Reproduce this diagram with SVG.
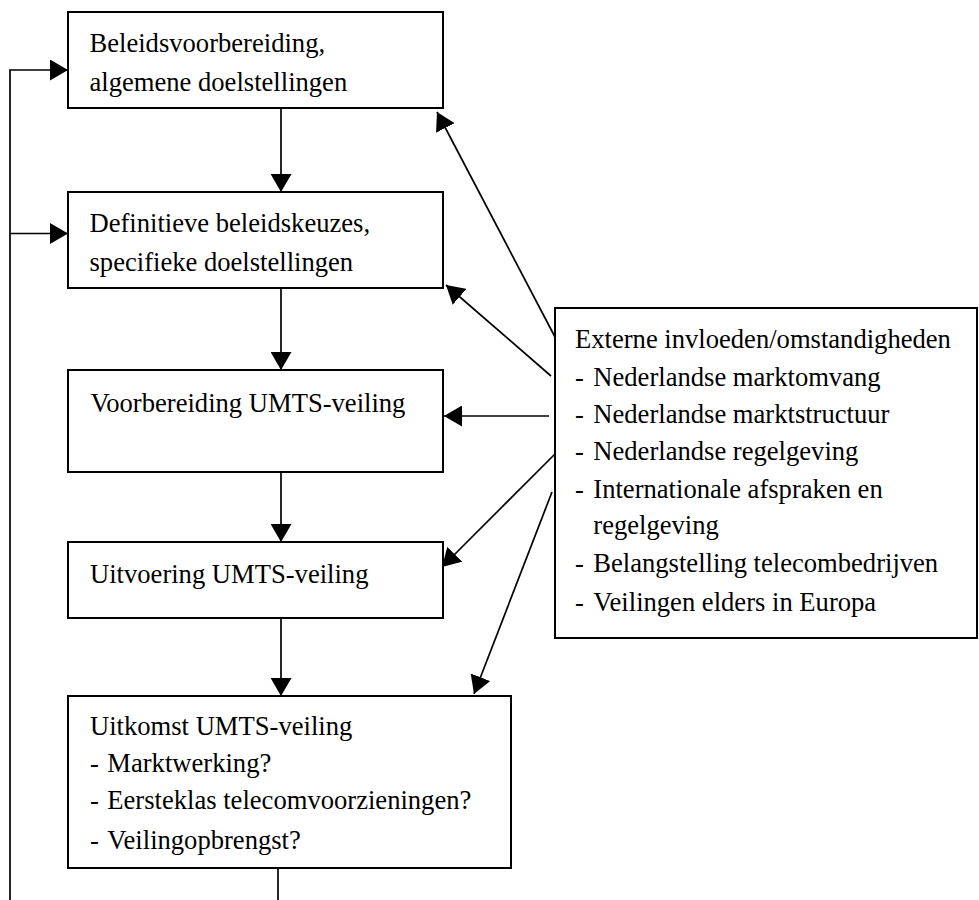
<svg xmlns="http://www.w3.org/2000/svg" width="979" height="900" viewBox="0 0 979 900">
<style>
.box{fill:#fff;stroke:#000;stroke-width:2}
.t{font-family:"Liberation Serif","Times New Roman",serif;font-size:26.6px;fill:#000}
.c{fill:none;stroke:#000;stroke-width:1.7}
.a{marker-end:url(#ah)}
</style>
<defs>
<marker id="ah" markerUnits="userSpaceOnUse" markerWidth="19" markerHeight="21" refX="18" refY="10.5" orient="auto" viewBox="0 0 19 21">
<path d="M0,0 L18,10.5 L0,21 z" fill="#000"/>
</marker>
</defs>
<rect width="979" height="900" fill="#fff"/>
<g id="connectors">
<line class="c a" x1="281" y1="108" x2="281" y2="192"/>
<line class="c a" x1="281" y1="288" x2="281" y2="370"/>
<line class="c a" x1="281" y1="472" x2="281" y2="542"/>
<line class="c a" x1="281" y1="618" x2="281" y2="696"/>
<line class="c" x1="278" y1="868" x2="278" y2="900"/>
<polyline class="c" points="10,900 10,70 68,70" marker-end="url(#ah)"/>
<line class="c a" x1="10" y1="233.5" x2="68" y2="233.5"/>
<line class="c a" x1="555" y1="337" x2="437" y2="112"/>
<line class="c a" x1="551" y1="376" x2="446" y2="285"/>
<line class="c a" x1="549" y1="416" x2="444" y2="416"/>
<line class="c a" x1="555" y1="454" x2="442" y2="567"/>
<line class="c a" x1="552" y1="492" x2="474" y2="694"/>
</g>
<g id="n1">
<rect class="box" x="68" y="12" width="375" height="96"/>
<text class="t" x="89.5" y="52">Beleidsvoorbereiding,</text>
<text class="t" x="89.5" y="91">algemene doelstellingen</text>
</g>
<g id="n2">
<rect class="box" x="68" y="192" width="375" height="96"/>
<text class="t" x="89.5" y="232">Definitieve beleidskeuzes,</text>
<text class="t" x="89.5" y="271">specifieke doelstellingen</text>
</g>
<g id="n3">
<rect class="box" x="68" y="370" width="375" height="102"/>
<text class="t" x="90.5" y="412">Voorbereiding UMTS-veiling</text>
</g>
<g id="n4">
<rect class="box" x="68" y="542" width="375" height="76"/>
<text class="t" x="90" y="583">Uitvoering UMTS-veiling</text>
</g>
<g id="n5">
<rect class="box" x="68" y="696" width="443" height="172"/>
<text class="t" x="90" y="735">Uitkomst UMTS-veiling</text>
<text class="t" y="772"><tspan x="90">-</tspan><tspan x="107.3">Marktwerking?</tspan></text>
<text class="t" y="809"><tspan x="90">-</tspan><tspan x="107.3">Eersteklas telecomvoorzieningen?</tspan></text>
<text class="t" y="849"><tspan x="90">-</tspan><tspan x="107.3">Veilingopbrengst?</tspan></text>
</g>
<g id="n6">
<rect class="box" x="555" y="308" width="422" height="330"/>
<text class="t" x="575" y="348">Externe invloeden/omstandigheden</text>
<text class="t" y="386"><tspan x="575">-</tspan><tspan x="593.3">Nederlandse marktomvang</tspan></text>
<text class="t" y="422.5"><tspan x="575">-</tspan><tspan x="593.3">Nederlandse marktstructuur</tspan></text>
<text class="t" y="460"><tspan x="575">-</tspan><tspan x="593.3">Nederlandse regelgeving</tspan></text>
<text class="t" y="497.5"><tspan x="575">-</tspan><tspan x="593.3">Internationale afspraken en</tspan></text>
<text class="t" x="593.3" y="534">regelgeving</text>
<text class="t" y="572"><tspan x="575">-</tspan><tspan x="593.3">Belangstelling telecombedrijven</tspan></text>
<text class="t" y="611"><tspan x="575">-</tspan><tspan x="593.3">Veilingen elders in Europa</tspan></text>
</g>
</svg>
